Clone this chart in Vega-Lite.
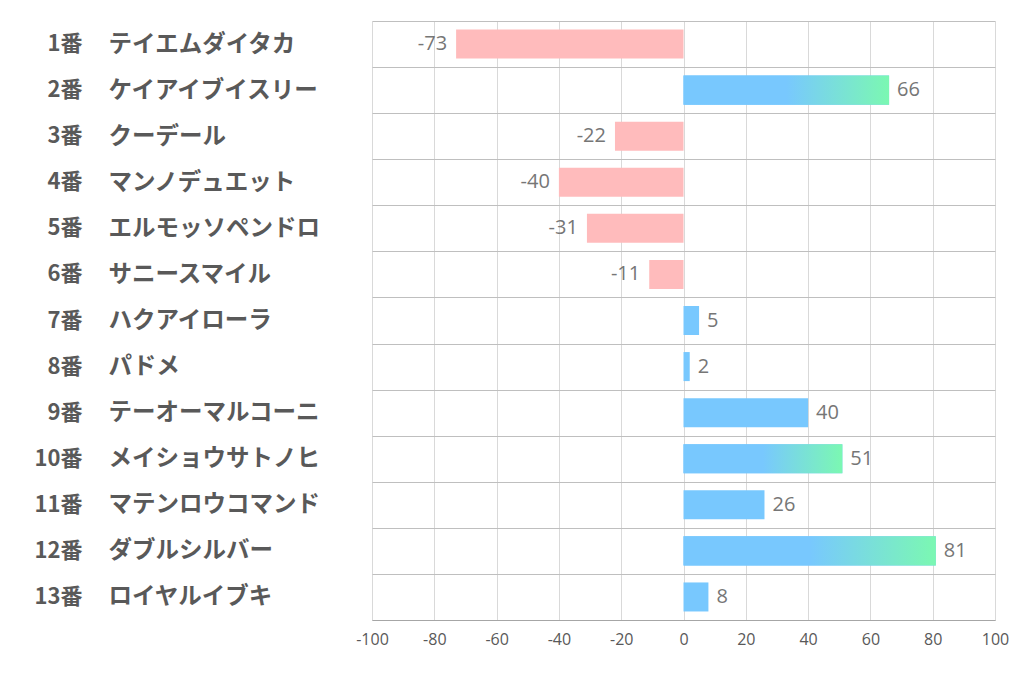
{
  "$schema": "https://vega.github.io/schema/vega-lite/v6.json",
  "autosize": {"type": "none"},
  "padding": {"left": 372, "top": 21, "right": 27, "bottom": 58},
  "width": 623,
  "height": 599,
  "background": "white",
  "config": {"view": {"stroke": null}},
  "data": {
    "values": [
      {"row": "1番|テイエムダイタカ", "value": -73},
      {"row": "2番|ケイアイブイスリー", "value": 66},
      {"row": "3番|クーデール", "value": -22},
      {"row": "4番|マンノデュエット", "value": -40},
      {"row": "5番|エルモッソペンドロ", "value": -31},
      {"row": "6番|サニースマイル", "value": -11},
      {"row": "7番|ハクアイローラ", "value": 5},
      {"row": "8番|パドメ", "value": 2},
      {"row": "9番|テーオーマルコーニ", "value": 40},
      {"row": "10番|メイショウサトノヒ", "value": 51},
      {"row": "11番|マテンロウコマンド", "value": 26},
      {"row": "12番|ダブルシルバー", "value": 81},
      {"row": "13番|ロイヤルイブキ", "value": 8}
    ]
  },
  "resolve": {"axis": {"y": "independent"}},
  "layer": [
    {
      "mark": {"type": "bar", "height": {"band": 0.63}},
      "encoding": {
        "y": {
          "field": "row", "type": "nominal", "sort": null,
          "scale": {"paddingInner": 0, "paddingOuter": 0},
          "axis": {
            "orient": "left", "title": null, "labelExpr": "split(datum.value,'|')[0]",
            "labelAlign": "right", "labelPadding": 290, "ticks": false, "domain": false, "grid": false,
            "labelFont": "Noto Sans CJK JP", "labelFontSize": 22, "labelFontWeight": "bold",
            "labelColor": "#595959", "labelLimit": 0
          }
        },
        "x": {
          "field": "value", "type": "quantitative",
          "scale": {"domain": [-100, 100], "nice": false},
          "axis": {
            "title": null, "values": [-100, -80, -60, -40, -20, 0, 20, 40, 60, 80, 100],
            "labelExpr": "'' + datum.value", "labelFlush": false,
            "grid": true, "gridColor": "#D9D9D9", "domainColor": "#A6A6A6", "ticks": false,
            "labelFont": "Open Sans", "labelFontSize": 16, "labelColor": "#595959", "labelPadding": 11
          }
        },
        "color": {
          "condition": {"test": "datum.value < 0", "value": "#FFBBBC"},
          "value": "#78C8FE"
        }
      }
    },
    {
      "transform": [{"filter": "datum.value > 50"}],
      "mark": {
        "type": "bar", "height": {"band": 0.63},
        "color": {
          "gradient": "linear", "x1": 0, "x2": 1, "y1": 0, "y2": 0,
          "stops": [
            {"offset": 0, "color": "#78C8FE"},
            {"offset": 0.5, "color": "#78C8FE"},
            {"offset": 1, "color": "#7BF8B2"}
          ]
        }
      },
      "encoding": {
        "y": {
          "field": "row", "type": "nominal", "sort": null,
          "axis": {
            "orient": "left", "title": null, "labelExpr": "split(datum.value,'|')[1]",
            "labelAlign": "left", "labelPadding": 264, "ticks": false, "domain": false,
            "grid": true, "tickBand": "extent", "gridColor": "#BFBFBF",
            "labelFont": "Noto Sans CJK JP", "labelFontSize": 23.5, "labelFontWeight": "bold",
            "labelColor": "#595959", "labelLimit": 0
          }
        },
        "x": {"field": "value", "type": "quantitative"}
      }
    },
    {
      "transform": [{"filter": "datum.value >= 0"}],
      "mark": {"type": "text", "align": "left", "dx": 8, "font": "Open Sans", "fontSize": 20, "color": "#767676"},
      "encoding": {
        "y": {"field": "row", "type": "nominal", "sort": null, "axis": null},
        "x": {"field": "value", "type": "quantitative"},
        "text": {"field": "value", "type": "nominal"}
      }
    },
    {
      "transform": [{"filter": "datum.value < 0"}],
      "mark": {"type": "text", "align": "right", "dx": -9, "font": "Open Sans", "fontSize": 20, "color": "#767676"},
      "encoding": {
        "y": {"field": "row", "type": "nominal", "sort": null, "axis": null},
        "x": {"field": "value", "type": "quantitative"},
        "text": {"field": "value", "type": "nominal"}
      }
    }
  ]
}
